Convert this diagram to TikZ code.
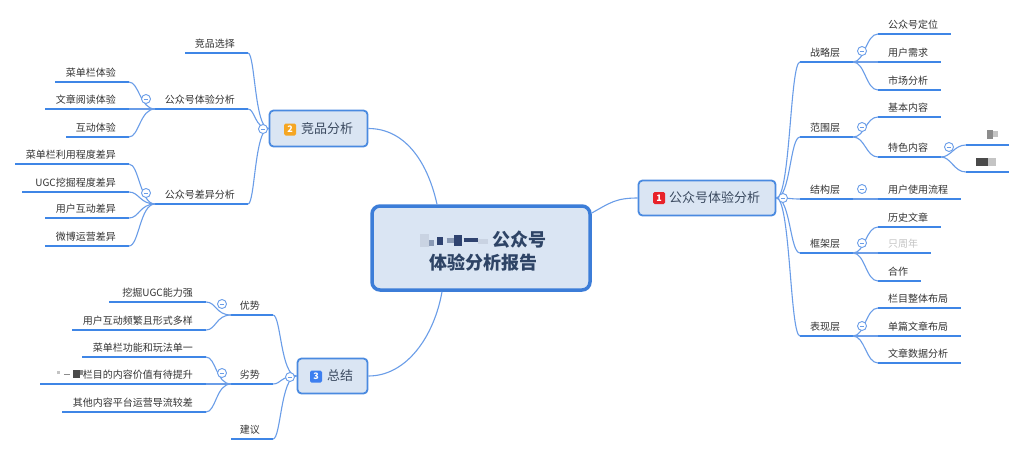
\documentclass[tikz,border=0pt]{standalone}
\usepackage{fontspec}
\setmainfont{Noto Sans CJK SC}
\definecolor{clc}{HTML}{6A9DE8}
\definecolor{ulc}{HTML}{3F86E6}
\definecolor{txt}{HTML}{333333}
\definecolor{toptxt}{HTML}{3B4A60}
\definecolor{topfill}{HTML}{DAE5F3}
\definecolor{topbord}{HTML}{4A8AE0}
\definecolor{cenbord}{HTML}{3C7DD8}
\definecolor{centxt}{HTML}{2E4466}
\definecolor{bred}{HTML}{E8222A}
\definecolor{borange}{HTML}{F5A623}
\definecolor{bblue}{HTML}{3D7FF0}
\definecolor{bll}{HTML}{C9D3E2}
\definecolor{blm}{HTML}{8A9AB5}
\definecolor{bld}{HTML}{2F4370}
\definecolor{gl}{HTML}{C4C4C4}
\definecolor{gm}{HTML}{8C8C8C}
\definecolor{gd}{HTML}{4A4A4A}
\newcommand\rb[4]{{\color{#1}\rule[#2]{#3}{#4}}}
\newcommand\blurA{\rb{bll}{-1pt}{9pt}{13pt}\rb{blm}{0pt}{5pt}{6pt}\hspace{3pt}\rb{bld}{1pt}{6pt}{8pt}\hspace{4pt}\rb{blm}{3pt}{7pt}{5pt}\rb{bld}{0pt}{8pt}{11pt}\hspace{2pt}\rb{bld}{4pt}{14pt}{4pt}\rb{bll}{2pt}{10pt}{5pt}\hspace{5pt}}
\newcommand\blurB{\hspace{11pt}\rb{gm}{0pt}{6pt}{9pt}\rb{gl}{2pt}{5pt}{6pt}}
\newcommand\blurC{\rb{gd}{0pt}{12pt}{8pt}\rb{gl}{0pt}{8pt}{8pt}}
\newcommand\blurD{\rb{gl}{4pt}{3pt}{3pt}\hspace{4pt}\rb{gm}{3pt}{6pt}{1pt}\hspace{3pt}\rb{gd}{0pt}{7pt}{8pt}\rb{gm}{3pt}{3pt}{5pt}}
\newcommand\rleaf[5]{%
  \coordinate (#1-w) at (#2,#4); \coordinate (#1-e) at (#3,#4);
  \draw[uln] (#1-w) -- (#1-e);
  \node[lbl, anchor=base west] (#1) at (#2+10,#4-6) {#5};}
\newcommand\lleaf[5]{%
  \coordinate (#1-w) at (#2,#4); \coordinate (#1-e) at (#3,#4);
  \draw[uln] (#1-w) -- (#1-e);
  \node[lbl, anchor=base east] (#1) at (#3-13,#4-6) {#5};}
\newcommand\rcon[2]{\draw[conn] (#1) .. controls +(12,0) and +(-12,0) .. (#2);}
\newcommand\lcon[2]{\draw[conn] (#1) .. controls +(-15,0) and +(10,0) .. (#2);}
\begin{document}
\begin{tikzpicture}[x=1pt,y=-1pt,
  conn/.style={draw=clc, line width=1.1pt},
  uln/.style={draw=ulc, line width=2.2pt},
  lbl/.style={font=\fontsize{10}{12}\selectfont, text=txt, inner sep=0pt},
  collapse/.style={circle, draw=clc, fill=white, line width=0.9pt, minimum size=9pt, inner sep=0pt,
    path picture={\draw[clc, line width=0.7pt] ([xshift=-2.2pt]path picture bounding box.center) -- ([xshift=2.2pt]path picture bounding box.center);}},
  topic/.style={draw=topbord, fill=topfill, line width=1.8pt, rounded corners=4pt, inner sep=0pt},
  toptext/.style={font=\fontsize{13}{15}\selectfont, text=toptxt, inner sep=0pt},
  badge/.style={rounded corners=1.5pt, minimum size=12pt, inner sep=0pt, text=white, font=\fontsize{9}{10}\selectfont\bfseries}]
\fill[white] (0,0) rectangle (1024,453);
\useasboundingbox (0,0) rectangle (1024,453);
% central
\node[draw=cenbord, fill=topfill, line width=3.5pt, rounded corners=8pt, minimum width=218pt, minimum height=84pt, inner sep=0pt] (c) at (481,248) {};
\node[align=center, font=\fontsize{18}{23}\selectfont\bfseries, text=centxt, inner sep=0pt] (ct) at (483,251) {\blurA 公众号\\体验分析报告};
% main topics
\node[topic, minimum width=137pt, minimum height=35pt] (t1) at (707,198) {};
\node[badge, fill=bred] (b1) at (659,198) {1};
\node[toptext] (t1t) at (714.5,198) {公众号体验分析};
\node[topic, minimum width=98pt, minimum height=36pt] (t2) at (318.5,128.5) {};
\node[badge, fill=borange] (b2) at (290,129.5) {2};
\node[toptext] (t2t) at (327,128.5) {竞品分析};
\node[topic, minimum width=70pt, minimum height=35pt] (t3) at (332.5,376) {};
\node[badge, fill=bblue] (b3) at (316,376.5) {3};
\node[toptext] (t3t) at (340,376) {总结};
% central connectors
\draw[conn] ([yshift=35pt]c.east) .. controls +(18,-10) and +(-22,0) .. (t1.west);
\draw[conn] ([xshift=-44pt]c.north) .. controls +(-10,-45) and +(35,0) .. (t2.east);
\draw[conn] ([xshift=-39pt]c.south) .. controls +(-8,45) and +(38,0) .. (t3.east);
% right branch
\rleaf{zl}{800}{853}{62}{战略层}
\rleaf{fw}{800}{853}{137}{范围层}
\rleaf{jg}{800}{853}{199}{结构层}
\rleaf{kj}{800}{853}{253}{框架层}
\rleaf{bx}{800}{853}{336}{表现层}
\rleaf{zla}{878}{951}{34}{公众号定位}
\rleaf{zlb}{878}{941}{62}{用户需求}
\rleaf{zlc}{878}{941}{90}{市场分析}
\rleaf{fwa}{878}{941}{117}{基本内容}
\rleaf{fwb}{878}{941}{157}{特色内容}
\rleaf{tsa}{966}{1009}{145}{\blurB}
\rleaf{tsb}{966}{1009}{172}{\blurC}
\rleaf{jga}{878}{961}{199}{用户使用流程}
\rleaf{kja}{878}{941}{227}{历史文章}
\rleaf{kjb}{878}{931}{253}{\textcolor{gl}{只周年}}
\rleaf{kjc}{878}{921}{281}{合作}
\rleaf{bxa}{878}{961}{308}{栏目整体布局}
\rleaf{bxb}{878}{961}{336}{单篇文章布局}
\rleaf{bxc}{878}{961}{363}{文章数据分析}
\foreach \k in {zl,fw,jg,kj,bx}{\draw[conn] (t1.east) .. controls +(14,0) and +(-10,0) .. (\k-w);}
\rcon{zl-e}{zla-w}\rcon{zl-e}{zlb-w}\rcon{zl-e}{zlc-w}
\rcon{fw-e}{fwa-w}\rcon{fw-e}{fwb-w}
\draw[conn] (fwb-e) .. controls +(10,0) and +(-12,0) .. (tsa-w);
\draw[conn] (fwb-e) .. controls +(10,0) and +(-12,0) .. (tsb-w);
\rcon{jg-e}{jga-w}
\rcon{kj-e}{kja-w}\rcon{kj-e}{kjb-w}\rcon{kj-e}{kjc-w}
\rcon{bx-e}{bxa-w}\rcon{bx-e}{bxb-w}\rcon{bx-e}{bxc-w}
% left branch 2
\lleaf{jp}{185}{248}{53}{竞品选择}
\lleaf{ty}{155}{248}{109}{公众号体验分析}
\lleaf{cy}{155}{248}{204}{公众号差异分析}
\lleaf{tya}{55}{129}{82}{菜单栏体验}
\lleaf{tyb}{45}{129}{109}{文章阅读体验}
\lleaf{tyc}{66}{129}{137}{互动体验}
\lleaf{cya}{15}{129}{164}{菜单栏利用程度差异}
\lleaf{cyb}{22}{129}{192}{UGC挖掘程度差异}
\lleaf{cyc}{45}{129}{218}{用户互动差异}
\lleaf{cyd}{45}{129}{246}{微博运营差异}
\foreach \k in {jp,ty,cy}{\draw[conn] (t2.west) .. controls +(-14,0) and +(7,0) .. (\k-e);}
\lcon{ty-w}{tya-e}\lcon{ty-w}{tyb-e}\lcon{ty-w}{tyc-e}
\lcon{cy-w}{cya-e}\lcon{cy-w}{cyb-e}\lcon{cy-w}{cyc-e}\lcon{cy-w}{cyd-e}
% left branch 3
\lleaf{ys}{231}{273}{315}{优势}
\lleaf{ls}{231}{273}{384}{劣势}
\lleaf{jy}{231}{273}{439}{建议}
\lleaf{ysa}{109}{206}{302}{挖掘UGC能力强}
\lleaf{ysb}{72}{206}{330}{用户互动频繁且形式多样}
\lleaf{lsa}{82}{206}{357}{菜单栏功能和玩法单一}
\lleaf{lsb}{40}{206}{384}{\blurD 栏目的内容价值有待提升}
\lleaf{lsc}{62}{206}{412}{其他内容平台运营导流较差}
\foreach \k in {ys,ls,jy}{\draw[conn] (t3.west) .. controls +(-16,0) and +(8,0) .. (\k-e);}
\lcon{ys-w}{ysa-e}\lcon{ys-w}{ysb-e}
\lcon{ls-w}{lsa-e}\lcon{ls-w}{lsb-e}\lcon{ls-w}{lsc-e}
% collapse markers
\node[collapse] (k1) at (783,198) {};
\node[collapse] (kzl) at (862,51) {};
\node[collapse] (kfw) at (862,127) {};
\node[collapse] (kjg) at (862,189) {};
\node[collapse] (kkj) at (862,243) {};
\node[collapse] (kbx) at (862,326) {};
\node[collapse] (kts) at (949,147) {};
\node[collapse] (k2) at (263,129) {};
\node[collapse] (kty) at (146,99) {};
\node[collapse] (kcy) at (146,193) {};
\node[collapse] (k3) at (290,377) {};
\node[collapse] (kys) at (222,304) {};
\node[collapse] (kls) at (222,373) {};
\end{tikzpicture}
\end{document}
